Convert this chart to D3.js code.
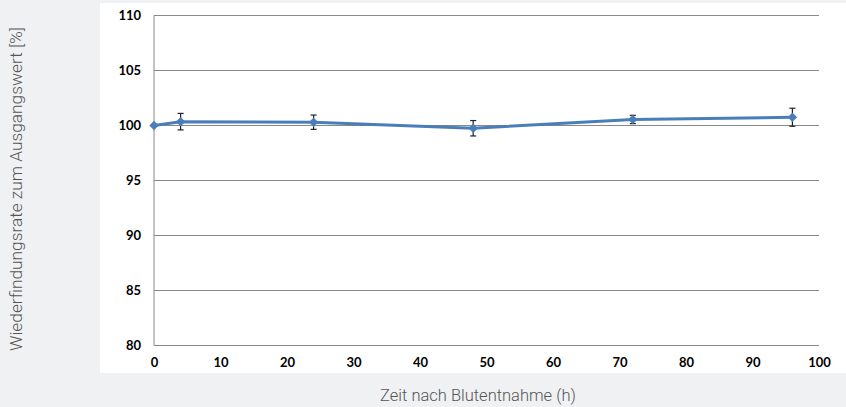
<!DOCTYPE html>
<meta charset="utf-8">
<script src="https://d3js.org/d3.v7.min.js"></script>
<style>
  body { margin: 0; background: #f0f1f3; }
</style>
<div id="chart"></div>
<script>
  // data
  var hours = [0, 4, 24, 48, 72, 96];
  var recovery = [100, 100.35, 100.3, 99.75, 100.55, 100.75];
  var errors = [0, 0.75, 0.65, 0.7, 0.38, 0.82];
  var xTicks = [0, 10, 20, 30, 40, 50, 60, 70, 80, 90, 100];
  var yTicks = [80, 85, 90, 95, 100, 105, 110];

  var W = 846, H = 407;
  var margin = {top: 15.5, right: 27, bottom: 61.5, left: 154};
  var width = W - margin.left - margin.right,
      height = H - margin.top - margin.bottom;

  var svg = d3.select("#chart").append("svg")
      .attr("width", W)
      .attr("height", H);

  // white panel behind the plot
  svg.append("rect")
      .attr("x", 100).attr("y", 3)
      .attr("width", W - 100).attr("height", 370)
      .attr("fill", "#ffffff");

  var g = svg.append("g")
      .attr("transform", "translate(" + margin.left + "," + margin.top + ")");

  var x = d3.scaleLinear().domain([0, 100]).range([0, width]);
  var y = d3.scaleLinear().domain([80, 110]).range([height, 0]);

  // horizontal grid lines
  g.selectAll(".grid")
    .data(yTicks)
    .enter().append("line")
      .attr("class", "grid")
      .attr("x1", 0).attr("x2", width)
      .attr("y1", function(d) { return y(d); })
      .attr("y2", function(d) { return y(d); })
      .attr("stroke", "#888888")
      .attr("stroke-width", 1);

  // y axis line
  g.append("line")
      .attr("x1", 0).attr("x2", 0)
      .attr("y1", 0).attr("y2", height)
      .attr("stroke", "#888888");

  var yAxis = g.append("g")
      .call(d3.axisLeft(y).tickValues(yTicks).tickSize(0).tickPadding(13));
  yAxis.select(".domain").remove();

  var xAxis = g.append("g")
      .attr("transform", "translate(0," + height + ")")
      .call(d3.axisBottom(x).tickValues(xTicks).tickSize(0).tickPadding(12));
  xAxis.select(".domain").remove();

  g.selectAll(".tick text")
      .attr("font-family", "Lato, 'Open Sans', sans-serif")
      .attr("font-weight", "bold")
      .attr("font-size", "13px")
      .attr("fill", "#000");

  // error bars
  var eb = g.selectAll(".err")
    .data(hours.map(function(h, i) { return {h: h, v: recovery[i], e: errors[i]}; })
      .filter(function(d) { return d.e > 0; }))
    .enter().append("g").attr("class", "err");
  eb.append("line")
      .attr("x1", function(d) { return x(d.h); })
      .attr("x2", function(d) { return x(d.h); })
      .attr("y1", function(d) { return y(d.v - d.e); })
      .attr("y2", function(d) { return y(d.v + d.e); })
      .attr("stroke", "#222").attr("stroke-width", 1.2);
  [-1, 1].forEach(function(s) {
    eb.append("line")
        .attr("x1", function(d) { return x(d.h) - 3; })
        .attr("x2", function(d) { return x(d.h) + 3; })
        .attr("y1", function(d) { return y(d.v + s * d.e); })
        .attr("y2", function(d) { return y(d.v + s * d.e); })
        .attr("stroke", "#222").attr("stroke-width", 1.2);
  });

  // series line
  var line = d3.line()
      .x(function(d, i) { return x(hours[i]); })
      .y(function(d) { return y(d); });
  g.append("path")
      .datum(recovery)
      .attr("d", line)
      .attr("fill", "none")
      .attr("stroke", "#4a7ebb")
      .attr("stroke-width", 3);

  // diamond markers
  g.selectAll(".pt")
    .data(recovery)
    .enter().append("path")
      .attr("class", "pt")
      .attr("d", d3.symbol().type(d3.symbolDiamond2).size(56))
      .attr("transform", function(d, i) { return "translate(" + x(hours[i]) + "," + y(d) + ")"; })
      .attr("fill", "#4a7ebb");

  // axis titles
  svg.append("text")
      .attr("transform", "translate(22,189) rotate(-90)")
      .attr("text-anchor", "middle")
      .attr("font-family", "Roboto, sans-serif")
      .attr("font-weight", 300)
      .attr("font-size", "17.3px")
      .attr("fill", "#555555")
      .text("Wiederfindungsrate zum Ausgangswert [%]");

  svg.append("text")
      .attr("x", 478).attr("y", 401)
      .attr("text-anchor", "middle")
      .attr("font-family", "Roboto, sans-serif")
      .attr("font-weight", 300)
      .attr("font-size", "16.5px")
      .attr("fill", "#555555")
      .text("Zeit nach Blutentnahme (h)");
</script>
